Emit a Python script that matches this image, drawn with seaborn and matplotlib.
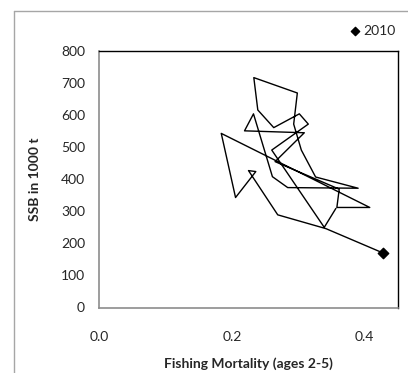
import numpy as np
import pandas as pd
import seaborn as sns
import matplotlib.pyplot as plt
from matplotlib.lines import Line2D

# F (ages 2-5) and SSB (1000 t), in year order, last point = 2010
fbar = [0.3565, 0.339, 0.260, 0.315, 0.3015, 0.263, 0.239, 0.233, 0.2985, 0.293,
        0.3045, 0.326, 0.390, 0.284, 0.261, 0.2325, 0.219, 0.309, 0.265, 0.3615,
        0.358, 0.4075, 0.184, 0.2055, 0.236, 0.225, 0.269, 0.3415, 0.4275]
ssb = [309, 250, 491, 572, 604, 561, 616, 717, 669, 572,
       491, 407, 372, 374, 408, 604, 551, 545, 455, 369,
       312, 312, 543, 343, 424, 427, 289, 246, 170]
years = list(range(2010 - len(fbar) + 1, 2011))

df = pd.DataFrame({'year': years, 'F': fbar, 'SSB': ssb})

sns.set_style("white")
plt.rcParams['font.family'] = ['Lato', 'DejaVu Sans']

fig = plt.figure(figsize=(4.08, 3.73), dpi=100)
ax = fig.add_axes([99 / 408, 1 - 307.5 / 373, 299 / 408, 256.5 / 373])

sns.lineplot(x='F', y='SSB', data=df, sort=False, estimator=None,
             color='black', linewidth=1, ax=ax)
last = df[df['year'] == 2010]
ax.scatter(last['F'], last['SSB'], marker='D', s=28, color='black',
           zorder=5, label='2010')

ax.set_xlim(0, 0.45)
ax.set_ylim(0, 800)
ax.set_xticks([0.0, 0.2, 0.4])
ax.set_xticklabels(['0.0', '0.2', '0.4'])
ax.set_yticks(range(0, 801, 100))
ax.tick_params(axis='both', direction='out', length=4, width=1, color='#8c8c8c',
               labelsize=10, pad=6)
ax.tick_params(axis='x', pad=13)
for s in ['left', 'bottom']:
    ax.spines[s].set_color('#8c8c8c')
    ax.spines[s].set_linewidth(1.2)
for s in ['top', 'right']:
    ax.spines[s].set_color('black')
    ax.spines[s].set_linewidth(1)

ax.set_xlabel('Fishing Mortality (ages 2-5)', fontsize=10, fontweight='bold')
ax.xaxis.set_label_coords(0.5, -(364 - 307.5) / 256.5)
ax.xaxis.label.set_va('center')
ax.set_ylabel('SSB in 1000 t', fontsize=10, fontweight='bold')
ax.yaxis.set_label_coords(-(99 - 35) / 299, 0.5)
ax.yaxis.label.set_va('center')

ax.legend(loc='center', bbox_to_anchor=(372 / 408, 1 - 31 / 373),
          bbox_transform=fig.transFigure, frameon=False, fontsize=10,
          handletextpad=0.1, markerscale=0.8, handlelength=1)

# outer chart border (cropped at right and bottom)
fig.add_artist(Line2D([14 / 408, 14 / 408], [0, 1 - 10.5 / 373], transform=fig.transFigure,
                      color='#a6a6a6', linewidth=1))
fig.add_artist(Line2D([14 / 408, 1], [1 - 10.5 / 373, 1 - 10.5 / 373], transform=fig.transFigure,
                      color='#a6a6a6', linewidth=1))

plt.savefig('out.png', dpi=100)
